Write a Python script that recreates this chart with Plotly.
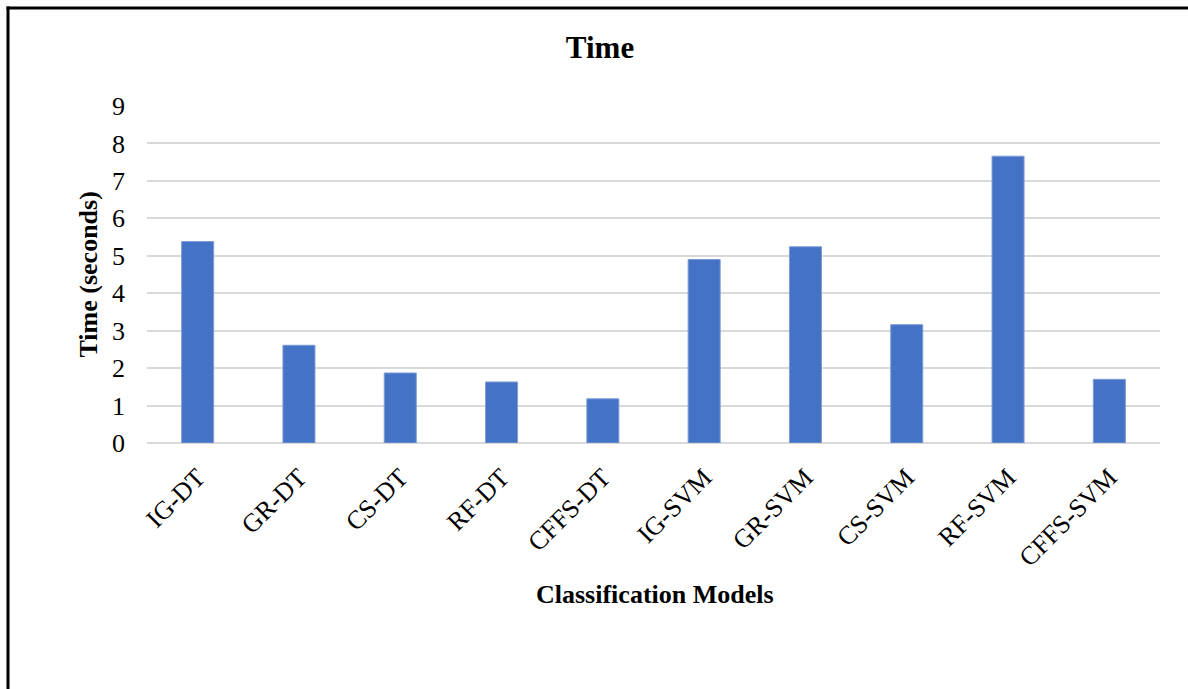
import plotly.graph_objects as go

# Execution time of each feature-selection / classifier combination
models = ["IG-DT", "GR-DT", "CS-DT", "RF-DT", "CFFS-DT",
          "IG-SVM", "GR-SVM", "CS-SVM", "RF-SVM", "CFFS-SVM"]
times = [5.38, 2.61, 1.87, 1.63, 1.18, 4.90, 5.24, 3.16, 7.66, 1.70]
y_ticks = [0, 1, 2, 3, 4, 5, 6, 7, 8, 9]

W, H = 1188, 689
L, R, T, B = 147, 28, 106, 246
plot_w = W - L - R
plot_h = H - T - B

FONT = "Liberation Serif, Times New Roman, serif"
BAR = "#4472C4"
GRID = "#D9D9D9"


def px_to_paper_x(px):
    return (px - L) / plot_w


def px_to_paper_y(py):
    return (H - B - py) / plot_h


fig = go.Figure(
    go.Bar(
        x=models,
        y=times,
        marker=dict(color=BAR, line=dict(color="#7E9CD8", width=1)),
    )
)

fig.update_layout(
    width=W,
    height=H,
    margin=dict(l=L, r=R, t=T, b=B, pad=0),
    paper_bgcolor="white",
    plot_bgcolor="white",
    bargap=0.684,
    showlegend=False,
    font=dict(family=FONT, color="#000000", size=26),
    title=dict(
        text="<b>Time</b>",
        font=dict(family=FONT, size=31, color="#000000"),
        xref="container",
        x=600 / W,
        xanchor="center",
        yref="container",
        y=1 - 47 / H,
        yanchor="middle",
    ),
)

fig.update_xaxes(
    type="category",
    tickangle=-45,
    tickfont=dict(family=FONT, size=26, color="#000000"),
    showgrid=False,
    showline=False,
    ticks="",
    ticklabelstandoff=13,
)

fig.update_yaxes(
    range=[0, 9],
    tickvals=y_ticks,
    ticktext=[str(v) for v in y_ticks],
    tickfont=dict(family=FONT, size=26, color="#000000"),
    showgrid=True,
    gridcolor=GRID,
    gridwidth=1.8,
    zeroline=True,
    zerolinecolor=GRID,
    zerolinewidth=1.8,
    showline=False,
    ticks="",
    ticklabelstandoff=21,
)

# Axis titles
fig.add_annotation(
    text="<b>Time (seconds)</b>",
    xref="paper", yref="paper",
    x=px_to_paper_x(88), y=0.5,
    xanchor="center", yanchor="middle",
    textangle=-90,
    showarrow=False,
    font=dict(family=FONT, size=26, color="#000000"),
)
fig.add_annotation(
    text="<b>Classification Models</b>",
    xref="paper", yref="paper",
    x=px_to_paper_x(655), y=px_to_paper_y(594),
    xanchor="center", yanchor="middle",
    showarrow=False,
    font=dict(family=FONT, size=26, color="#000000"),
)

# Frame around the chart (left and top edges)
frame = dict(color="#000000", width=3)
fig.add_shape(type="line", xref="paper", yref="paper",
              x0=px_to_paper_x(8), x1=px_to_paper_x(8),
              y0=px_to_paper_y(6.5), y1=px_to_paper_y(H + 10), line=frame)
fig.add_shape(type="line", xref="paper", yref="paper",
              x0=px_to_paper_x(6.5), x1=px_to_paper_x(W + 10),
              y0=px_to_paper_y(8), y1=px_to_paper_y(8), line=frame)

fig.write_html("out.html")
